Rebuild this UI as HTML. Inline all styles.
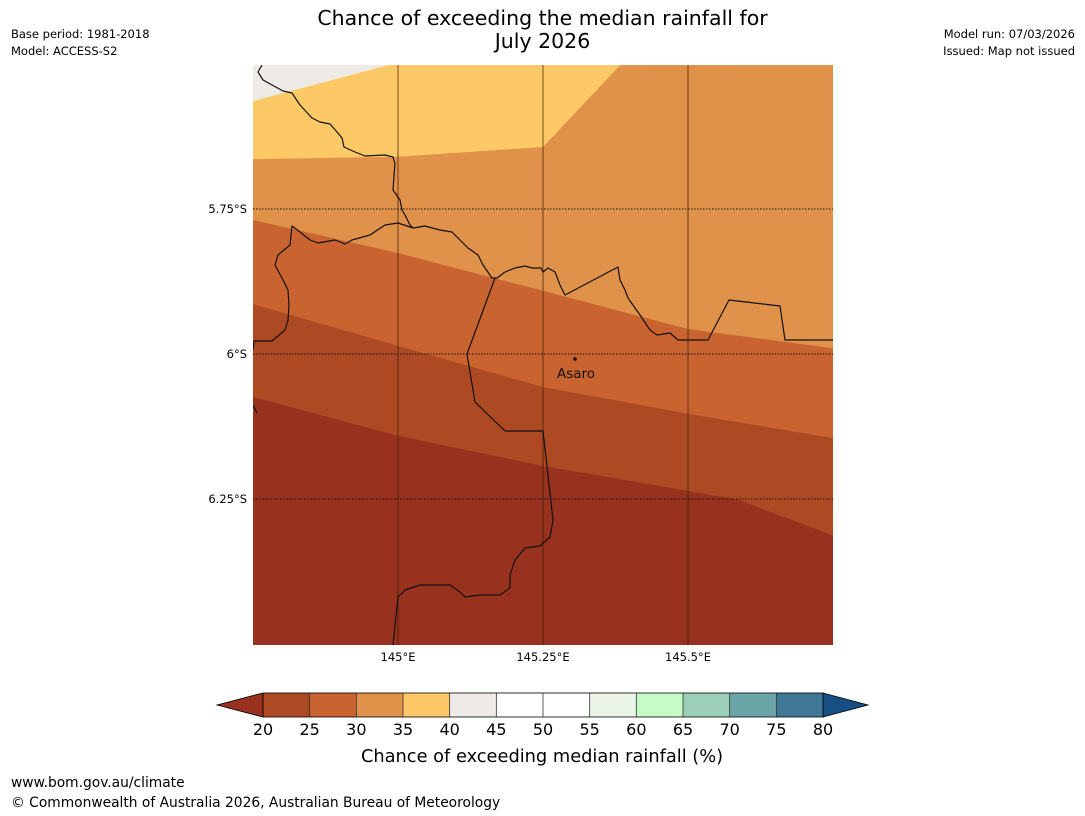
<!DOCTYPE html>
<html><head><meta charset="utf-8"><style>
body{margin:0;width:1085px;height:816px;background:#fff;font-family:"DejaVu Sans","Liberation Sans",sans-serif;position:relative;overflow:hidden}
.t{position:absolute;white-space:nowrap}
</style></head><body>
<div class="t" style="left:0;width:1085px;top:7px;text-align:center;font-size:20.5px;line-height:23px;color:#000">Chance of exceeding the median rainfall for<br>July 2026</div>
<div class="t" style="left:11px;top:27px;font-size:11.5px">Base period: 1981-2018</div>
<div class="t" style="left:11px;top:44px;font-size:11.5px">Model: ACCESS-S2</div>
<div class="t" style="right:10px;top:27px;font-size:11.5px;text-align:right">Model run: 07/03/2026</div>
<div class="t" style="right:10px;top:44px;font-size:11.5px;text-align:right">Issued: Map not issued</div>
<div class="t" style="left:11px;top:775px;font-size:13.8px">www.bom.gov.au/climate</div>
<div class="t" style="left:11px;top:795px;font-size:13.8px">© Commonwealth of Australia 2026, Australian Bureau of Meteorology</div>
<svg id="svg" width="1085" height="816" style="position:absolute;left:0;top:0"></svg>
<script>
const levels=[20,25,30,35,40,45,50,55,60,65,70,75,80];
const barColors=["#ad4a24","#c96430","#e0924a","#fdc966","#eeebe7","#ffffff","#ffffff","#eaf5e8","#c8fac8","#9bcfb8","#6ca5a8","#3f7796"];
const lowColor="#98321f", highColor="#174f85";
const lonTicks=[145,145.25,145.5];
const lonLabels=["145°E","145.25°E","145.5°E"];
const latTicks=[5.75,6,6.25];
const latLabels=["5.75°S","6°S","6.25°S"];
const bandColors=["#eeebe7","#fdc966","#e0924a","#c96430","#ad4a24","#98321f"];
const bounds=[
 [[144.75,5.564],[144.983,5.502]],
 [[144.75,5.664],[145,5.66],[145.25,5.643],[145.383,5.502]],
 [[144.75,5.769],[145,5.826],[145.25,5.891],[145.5,5.957],[145.75,5.99]],
 [[144.75,5.914],[145,5.986],[145.25,6.057],[145.5,6.103],[145.75,6.145]],
 [[144.75,6.074],[145,6.141],[145.25,6.193],[145.5,6.236],[145.586,6.251],[145.75,6.313]]
];
const X=lon=>398+(lon-145)*580, Y=lat=>354+(lat-6)*580;
const L=253,R=833,T=65,B=645;
const s=document.getElementById('svg');
const NS="http://www.w3.org/2000/svg";
function mk(tag,at,parent){const e=document.createElementNS(NS,tag);for(const k in at)e.setAttribute(k,at[k]);(parent||s).appendChild(e);return e;}
const defs=mk('defs',{});const cp=mk('clipPath',{id:'mc'},defs);mk('rect',{x:L,y:T,width:R-L,height:B-T},cp);
const g=mk('g',{'clip-path':'url(#mc)'});
for(let i=0;i<bandColors.length;i++){
  let pts;
  if(i===0){pts=[[L,T],[R,T],[R,B],[L,B]];}
  else{const b=bounds[i-1];pts=b.map(p=>[X(p[0]),Y(p[1])]);
    const last=pts[pts.length-1];
    if(last[1]<=T+1){pts.push([R,T]);}
    pts.push([R,B],[L,B]);}
  const p=mk('polygon',{points:pts.map(q=>q.join(',')).join(' '),fill:bandColors[i]},g);
  
  
}
lonTicks.forEach((v,i)=>{
  const l=mk('line',{x1:X(v),x2:X(v),y1:T,y2:B,stroke:'rgba(60,30,10,0.55)','stroke-width':1.3},g);
  
  
  const t=mk('text',{x:X(v),y:661,'text-anchor':'middle','font-size':11.5,fill:'#000'});t.textContent=lonLabels[i];
  
  
});
latTicks.forEach((v,i)=>{
  const l=mk('line',{x1:L,x2:R,y1:Y(v),y2:Y(v),stroke:'#111','stroke-width':1,'stroke-dasharray':'1.5,1.5'},g);
  
  
  const t=mk('text',{x:247,y:Y(v)+4,'text-anchor':'end','font-size':11.5,fill:'#000'});t.textContent=latLabels[i];
  
  
});
const borders=[
 "262,65 258,72 263,80 283,91 292,93 300,105 312,118 320,122 330,124 337,132 342,138 344,147 355,152 365,156 385,155 393,157 395,164 394,175 393,190 400,200 402,210 405,215 410,225 413,228",
 "413,228 398,223 385,225 370,235 352,240 345,244 335,240 318,243 310,240 300,232 292,226 290,245 278,255 275,265 283,280 288,290 289,305 288,320 285,330 272,341 254,341 253,350",
 "413,228 425,226 440,230 452,232 460,240 468,248 478,255 483,265 492,278 497,278 505,272 515,268 525,266 532,268 541,268 543,272 548,268 555,272 560,285 565,295 618,267 620,280 625,290 628,298 640,315 650,330 657,335 670,333 678,340 708,340 729,300 780,306 785,340 833,340",
 "495,278 467,354 475,402 505,431 543,431 553,520 550,537 540,546 525,548 515,560 510,575 510,588 500,595 480,595 465,597 460,592 450,585 435,585 420,585 405,590 398,597 393,645",
 "253,405 257,413"
];
borders.forEach(b=>{const p=mk('polyline',{points:b,fill:'none',stroke:'#111','stroke-width':1.2,'stroke-linejoin':'round'},g);
  
  });
const d=mk('circle',{cx:575,cy:359,r:1.8,fill:'#111'});


const tt=mk('text',{x:557,y:378,'font-size':13.5,fill:'#111'});tt.textContent='Asaro';


const cbL=263,cbR=823,cbT=693,cbB=717;
const cx=v=>cbL+(v-levels[0])/(levels[levels.length-1]-levels[0])*(cbR-cbL);
const lt=mk('polygon',{points:`${cbL},${cbT} ${cbL},${cbB} 217,${(cbT+cbB)/2}`,fill:lowColor,stroke:'#000','stroke-width':0.8});


const rt=mk('polygon',{points:`${cbR},${cbT} ${cbR},${cbB} 868,${(cbT+cbB)/2}`,fill:highColor,stroke:'#000','stroke-width':0.8});


for(let i=0;i<barColors.length;i++){
  const r=mk('rect',{x:cx(levels[i]),y:cbT,width:cx(levels[i+1])-cx(levels[i]),height:cbB-cbT,fill:barColors[i]});
  
  
}
levels.forEach(v=>{
  const l=mk('line',{x1:cx(v),x2:cx(v),y1:cbT,y2:cbB,stroke:'#333','stroke-width':0.8});
  
  
  const t=mk('text',{x:cx(v),y:735,'text-anchor':'middle','font-size':16,fill:'#000'});t.textContent=v;
  
  
});
mk('rect',{x:cbL,y:cbT,width:cbR-cbL,height:cbB-cbT,fill:'none',stroke:'#000','stroke-width':0.8});
const ct=mk('text',{x:542,y:762,'text-anchor':'middle','font-size':17.8,fill:'#000'});ct.textContent='Chance of exceeding median rainfall (%)';


</script>
</body></html>
